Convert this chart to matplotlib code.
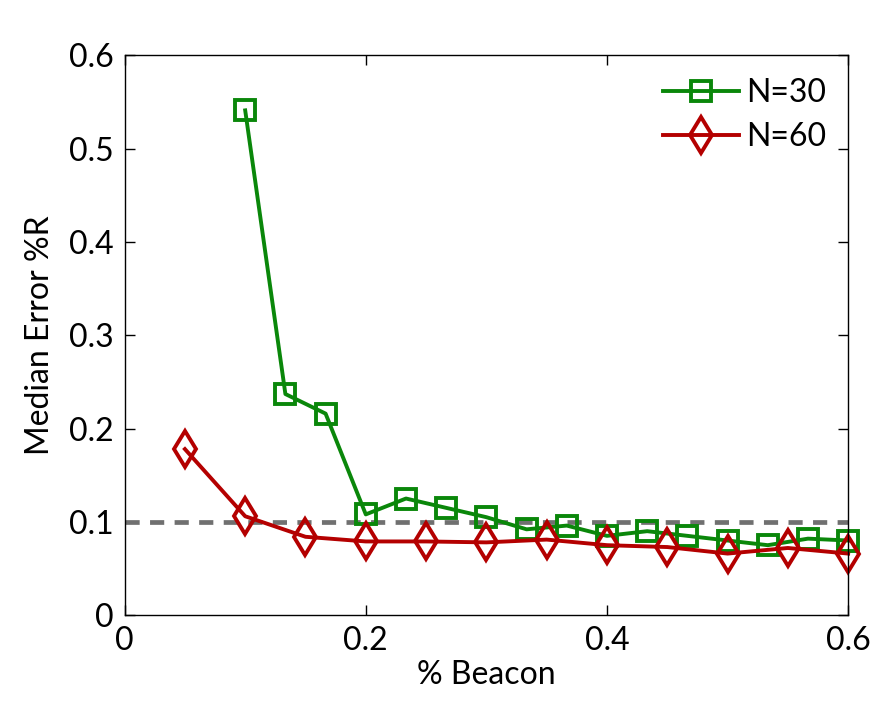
import matplotlib
matplotlib.use("Agg")
from matplotlib import pyplot as plt
from matplotlib.ticker import FuncFormatter

# data
x_n30 = [3/30, 4/30, 5/30, 6/30, 7/30, 8/30, 9/30, 10/30, 11/30, 12/30,
         13/30, 14/30, 15/30, 16/30, 17/30, 18/30]
err_n30 = [0.541, 0.237, 0.216, 0.108, 0.125, 0.115, 0.105, 0.092, 0.096, 0.085,
           0.090, 0.085, 0.080, 0.075, 0.082, 0.080]

x_n60 = [0.05, 0.10, 0.15, 0.20, 0.25, 0.30, 0.35, 0.40, 0.45, 0.50, 0.55, 0.60]
err_n60 = [0.178, 0.106, 0.084, 0.079, 0.079, 0.078, 0.081, 0.075, 0.073, 0.066, 0.072, 0.066]

threshold = 0.1
x_ticks = [0, 0.2, 0.4, 0.6]
y_ticks = [0, 0.1, 0.2, 0.3, 0.4, 0.5, 0.6]

plt.rcParams['font.family'] = ['Lato', 'DejaVu Sans']

fig = plt.figure(figsize=(8.9, 7.28), dpi=100)
ax = fig.add_axes([0.140, 0.155, 0.813, 0.769])

ax.plot([0, 0.6], [threshold, threshold], linestyle=(0, (3, 2.2)), color="#707070", linewidth=3.4)
ax.plot(x_n30, err_n30, color="#0a870a", linewidth=2.8, marker="s", markersize=14,
        markerfacecolor="none", markeredgewidth=2.8, label="N=30", clip_on=False)
ax.plot(x_n60, err_n60, color="#b40000", linewidth=2.8, marker="d", markersize=18,
        markerfacecolor="none", markeredgewidth=2.8, label="N=60", clip_on=False)

ax.set_xlim(0, 0.6)
ax.set_ylim(0, 0.6)
ax.set_xticks(x_ticks)
ax.set_yticks(y_ticks)
fmt = FuncFormatter(lambda v, p: "0" if abs(v) < 1e-9 else ("%g" % v))
ax.xaxis.set_major_formatter(fmt)
ax.yaxis.set_major_formatter(fmt)
ax.tick_params(direction="in", top=True, right=True, length=7, width=1, labelsize=23, pad=8)
for s in ax.spines.values():
    s.set_linewidth(1)

ax.set_xlabel("% Beacon", fontsize=23, labelpad=3)
ax.set_ylabel("Median Error %R", fontsize=23, labelpad=10)

ax.legend(loc="upper right", frameon=False, fontsize=23, handlelength=2.4,
          borderaxespad=0.3, handletextpad=0.2, labelspacing=0.45)

fig.savefig("out.png", dpi=100)
